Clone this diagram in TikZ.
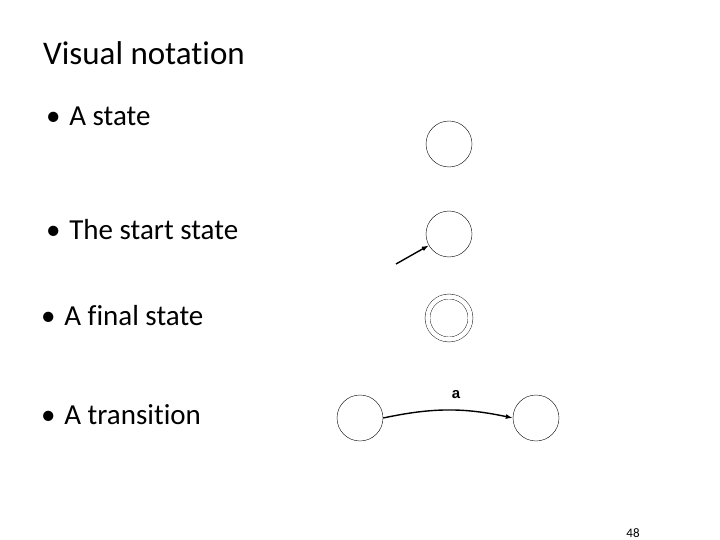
\documentclass[tikz,border=0pt]{standalone}
\usepackage{fontspec}
\setmainfont{Carlito}[Ligatures=NoCommon]
\setsansfont{Liberation Sans}
\usetikzlibrary{arrows.meta, positioning}
\tikzset{
  >=latex,
  % stati
  state/.style={circle,draw=black,thin,minimum size=46,inner sep=0},
  final state/.style={state,double=white,double distance=4.5},
  % testi
  title text/.style={anchor=base west,inner sep=0,font=\fontsize{33}{36}\selectfont},
  item text/.style={anchor=base west,inner sep=0,font=\fontsize{29}{32}\selectfont},
  edge label/.style={font=\sffamily\bfseries\fontsize{15}{16}\selectfont,inner sep=0},
  % frecce
  connect arrow/.style={-{Latex[length=7,width=5]},line width=1.4}
}
\begin{document}
\begin{tikzpicture}[x=1pt,y=-1pt]
  \useasboundingbox[fill=white] (0,0) rectangle (720,540);
  \node[title text] (title) at (43,65) {Visual notation};
  \foreach \nm/\px/\py/\txt in {istate/46/126/A state, istart/46/240/The start state,
                                  ifinal/41/325/A final state, itrans/41/424/A transition}{
    \node[item text] (\nm) at (\px,\py) {\textbullet\hspace{0.3em}\txt};
  }
  \node[state] (s1) at (449,144) {};
  \node[state] (s2) at (449,234) {};
  \coordinate (in) at (396,264);
  \draw[connect arrow] (in) -- (s2);
  \node[final state,minimum size=43] (f1) at (449,318) {};
  \node[state] (t1) at (360,418) {};
  \node[state] (t2) at (536,418) {};
  \draw[connect arrow] (t1.east) to[bend left=12] node[edge label,anchor=south,xshift=8,yshift=11] (lab) {a} (t2.west);
  \node[font=\fontsize{13}{15}\selectfont] (page) at (633,533) {48};
\end{tikzpicture}
\end{document}
